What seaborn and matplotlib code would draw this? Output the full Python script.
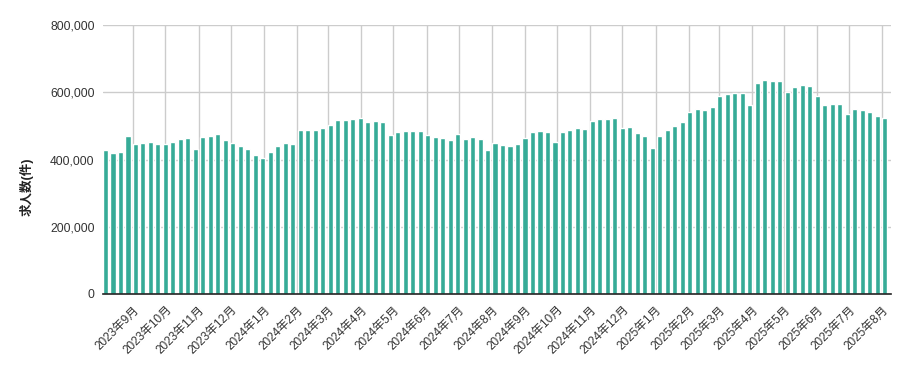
import pandas as pd
import matplotlib
matplotlib.use("Agg")
import matplotlib.pyplot as plt
import matplotlib.dates as mdates
from matplotlib.ticker import FuncFormatter, MultipleLocator
import seaborn as sns

# weekly job posting counts
week_start = "2023-08-06"
n_weeks = 105
job_counts = [
    428000, 419000, 422000, 470000, 446000, 449000, 452000, 446000, 446000, 452000,
    461000, 464000, 431000, 467000, 470000, 476000, 458000, 449000, 440000, 431000,
    413000, 404000, 422000, 440000, 449000, 446000, 488000, 488000, 488000, 494000,
    503000, 517000, 517000, 520000, 523000, 511000, 515000, 511000, 473000, 482000,
    485000, 485000, 485000, 473000, 467000, 464000, 458000, 476000, 461000, 467000,
    461000, 428000, 449000, 443000, 440000, 446000, 464000, 482000, 485000, 482000,
    452000, 482000, 488000, 494000, 491000, 515000, 520000, 520000, 523000, 494000,
    497000, 479000, 470000, 434000, 470000, 488000, 500000, 511000, 541000, 550000,
    547000, 556000, 589000, 595000, 598000, 598000, 562000, 627000, 636000, 633000,
    633000, 601000, 616000, 622000, 619000, 589000, 562000, 565000, 565000, 535000,
    550000, 547000, 541000, 529000, 523000,
]
y_label = "求人数(件)"
bar_color = "#36ab97"

sns.set_theme(style="white")
plt.rcParams["font.family"] = ["Liberation Sans", "Noto Sans CJK JP", "DejaVu Sans"]

weeks = pd.date_range(week_start, periods=n_weeks, freq="7D")
df = pd.DataFrame({"x": mdates.date2num(weeks), "count": job_counts})

fig = plt.figure(figsize=(9.09, 3.71), dpi=100)
ax = fig.add_axes([103 / 909, 77 / 371, 788 / 909, 269 / 371])

sns.barplot(data=df, x="x", y="count", native_scale=True, color=bar_color,
            saturation=1, width=0.68, ax=ax, zorder=2)

ax.set_xlim(mdates.date2num(pd.Timestamp("2023-08-03 16:00")),
            mdates.date2num(pd.Timestamp("2025-08-09")))
ax.set_ylim(0, 800000)

ax.xaxis.set_major_locator(mdates.MonthLocator())
ax.xaxis.set_major_formatter(FuncFormatter(
    lambda v, p: f"{mdates.num2date(v).year}年{mdates.num2date(v).month}月"))
ax.yaxis.set_major_locator(MultipleLocator(200000))
ax.yaxis.set_major_formatter(FuncFormatter(lambda v, p: f"{int(v):,}"))

ax.grid(True, color="#cccccc", linewidth=1)
ax.set_axisbelow(True)
for side in ["top", "right", "left"]:
    ax.spines[side].set_visible(False)
ax.spines["bottom"].set_color("#222222")
ax.spines["bottom"].set_linewidth(1.2)
ax.spines["bottom"].set_zorder(3)

ax.tick_params(axis="y", length=0, pad=6, labelsize=8.7, labelcolor="#333333")
ax.tick_params(axis="x", length=0, pad=7, labelsize=8.5, labelcolor="#333333")
plt.setp(ax.get_xticklabels(), rotation=45, ha="right", va="top",
         rotation_mode="anchor")

ax.set_xlabel("")
ax.set_ylabel(y_label, fontsize=9, fontweight="bold", color="#222222")
ax.yaxis.set_label_coords(-0.0885, 0.398)

fig.savefig("out.png", dpi=100)
